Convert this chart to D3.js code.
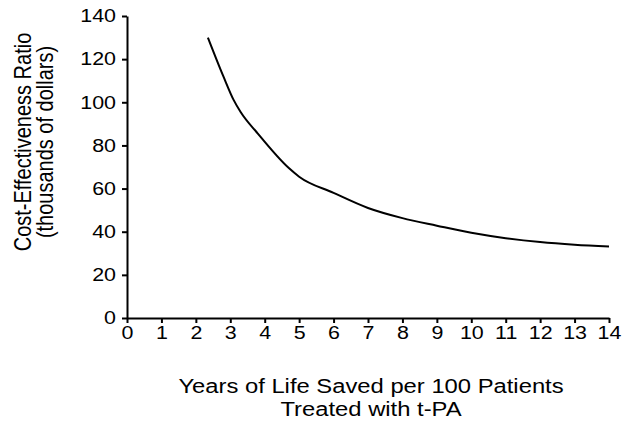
<!DOCTYPE html>
<html>
<head>
<meta charset="utf-8">
<script src="https://cdn.jsdelivr.net/npm/d3@7"></script>
<style>
  body { margin: 0; background: #fff; }
  svg { display: block; }
  text { font-family: Arial, "Liberation Sans", sans-serif; fill: #000; }
  .axis path, .axis line { stroke: #000; stroke-width: 2; }
  .axis text { font-size: 18px; }
  .title { font-size: 20px; }
</style>
</head>
<body>
<div id="chart"></div>
<script>
const years = [2.35, 2.8, 3.1, 3.3, 3.8, 4.7, 5, 6, 7, 8, 9, 10, 11, 12, 13, 14];
const ratio = [130, 112, 101, 95.5, 85.5, 69.5, 65.5, 58, 51, 46.3, 42.8, 39.5, 37, 35.2, 34, 33.2];
const xTicks = d3.range(0, 15);
const yTicks = [0, 20, 40, 60, 80, 100, 120, 140];
const xTitle = ["Years of Life Saved per 100 Patients", "Treated with t-PA"];
const yTitle = ["Cost-Effectiveness Ratio", "(thousands of dollars)"];

// the original text is a little wider than the font's natural width
const stretch = 1.19;

const width = 622, height = 424;
const margin = {top: 16, right: 13, bottom: 106, left: 127};
const w = width - margin.left - margin.right;
const h = height - margin.top - margin.bottom;

const data = years.map((x, i) => ({x: x, y: ratio[i]}));

const svg = d3.select('#chart').append('svg')
    .attr('width', width)
    .attr('height', height);
const g = svg.append('g')
    .attr('transform', `translate(${margin.left},${margin.top})`);

const x = d3.scaleLinear().domain([0, 14]).range([0, w]);
const y = d3.scaleLinear().domain([0, 140]).range([h, 0]);

// axes
g.append('g')
    .attr('class', 'axis')
    .attr('transform', `translate(0,${h})`)
    .call(d3.axisBottom(x).tickValues(xTicks).tickSize(5).tickSizeOuter(0).tickPadding(3))
    .call(a => a.selectAll('text')
        .attr('dy', '0.72em')
        .attr('transform', `scale(${stretch},1)`));

g.append('g')
    .attr('class', 'axis')
    .call(d3.axisLeft(y).tickValues(yTicks).tickSize(5).tickSizeOuter(0).tickPadding(6))
    .call(a => a.selectAll('text')
        .attr('x', 0)
        .attr('transform', `translate(-11,0) scale(${stretch},1)`));

// curve
const line = d3.line()
    .x(d => x(d.x))
    .y(d => y(d.y))
    .curve(d3.curveMonotoneX);

g.append('path')
    .datum(data)
    .attr('d', line)
    .attr('fill', 'none')
    .attr('stroke', '#000')
    .attr('stroke-width', 2);

// titles
svg.append('g')
    .attr('transform', `translate(371,0) scale(${stretch},1)`)
    .append('text')
    .attr('class', 'title')
    .attr('text-anchor', 'middle')
    .selectAll('tspan')
    .data(xTitle)
    .join('tspan')
    .attr('x', 0)
    .attr('y', (d, i) => 393 + i * 23.5)
    .text(d => d);

svg.append('text')
    .attr('class', 'title')
    .attr('text-anchor', 'middle')
    .attr('transform', `translate(0,142) scale(${stretch},1) rotate(-90)`)
    .selectAll('tspan')
    .data(yTitle)
    .join('tspan')
    .attr('x', 0)
    .attr('y', (d, i) => 26 + i * 18.2)
    .text(d => d);
</script>
</body>
</html>
